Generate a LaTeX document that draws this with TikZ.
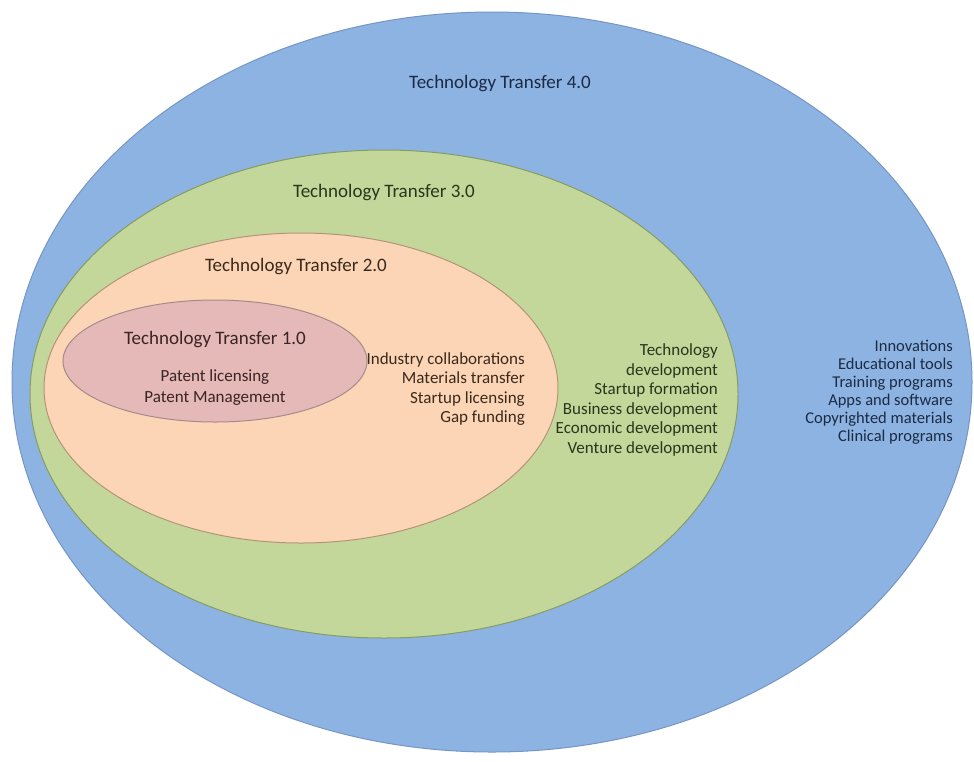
\documentclass[tikz,border=0pt]{standalone}
\usepackage{fontspec}
\setmainfont{Carlito}
\definecolor{tt4fill}{HTML}{8DB3E2}
\definecolor{tt4line}{HTML}{7596C4}
\definecolor{tt4text}{HTML}{1C2A44}
\definecolor{tt3fill}{HTML}{C4D79B}
\definecolor{tt3line}{HTML}{869C62}
\definecolor{tt3text}{HTML}{27371C}
\definecolor{tt2fill}{HTML}{FBD5B5}
\definecolor{tt2line}{HTML}{B49478}
\definecolor{tt2text}{HTML}{3B2A1C}
\definecolor{tt1fill}{HTML}{E5B9B7}
\definecolor{tt1line}{HTML}{A98A8A}
\definecolor{tt1text}{HTML}{3A2424}
\begin{document}
\begin{tikzpicture}[x=1pt,y=-1pt,
  ring/.style={line width=1pt},
  head/.style={font=\fontsize{19}{23}\selectfont, inner sep=0pt},
  items/.style={font=\fontsize{17}{19.5}\selectfont, align=right, inner sep=0pt, anchor=east},
  body/.style={font=\fontsize{17}{21}\selectfont, align=center, inner sep=0pt},
]
\useasboundingbox (0,0) rectangle (974,761);
\fill[white] (0,0) rectangle (974,761);

% nested stages, outermost first
\path[ring, fill=tt4fill, draw=tt4line] (492,382) ellipse [x radius=480, y radius=370];
\path[ring, fill=tt3fill, draw=tt3line] (384,394) ellipse [x radius=354, y radius=244];
\path[ring, fill=tt2fill, draw=tt2line] (301,388) ellipse [x radius=257, y radius=155];
\path[ring, fill=tt1fill, draw=tt1line] (215,361) ellipse [x radius=152, y radius=61];

% stage titles
\node[head, text=tt4text] (t4) at (500,84) {Technology Transfer 4.0};
\node[head, text=tt3text] (t3) at (384,193) {Technology Transfer 3.0};
\node[head, text=tt2text] (t2) at (296,267) {Technology Transfer 2.0};
\node[head, text=tt1text] (t1) at (215,340) {Technology Transfer 1.0};

% stage contents
\node[body, text=tt1text] (l1) at (215,388) {Patent licensing\\Patent Management};
\node[items, text=tt2text] (l2) at (525,389) {Industry collaborations\\Materials transfer\\Startup licensing\\Gap funding};
\node[items, text=tt3text] (l3) at (718,400) {Technology\\development\\Startup formation\\Business development\\Economic development\\Venture development};
\node[items, text=tt4text, font=\fontsize{16.5}{18}\selectfont] (l4) at (953,392) {Innovations\\Educational tools\\Training programs\\Apps and software\\Copyrighted materials\\Clinical programs};
\end{tikzpicture}
\end{document}
